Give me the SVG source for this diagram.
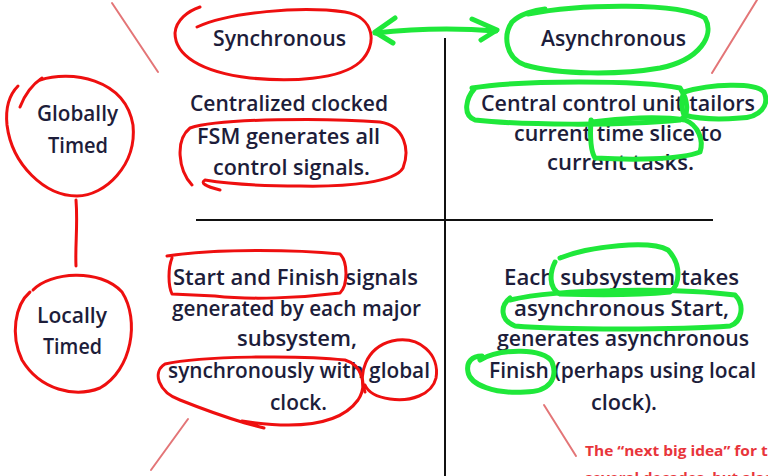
<svg xmlns="http://www.w3.org/2000/svg" width="768" height="476" viewBox="0 0 768 476">
  <defs>
    <style>
      .t { font-family: "Open Sans", "Liberation Sans", sans-serif; font-size: 22px; font-weight: 600; fill: #1d1d3a; }
      .axis { stroke: #111; stroke-width: 2; fill: none; }
      .red { stroke: #ee0f0f; stroke-width: 3; fill: none; stroke-linecap: round; stroke-linejoin: round; }
      .green { stroke: #1fe83a; stroke-width: 5; fill: none; stroke-linecap: round; stroke-linejoin: round; }
      .pink { stroke: #d9474a; stroke-opacity: 0.75; stroke-width: 2; fill: none; stroke-linecap: round; }
      .note { font-family: "Open Sans", "Liberation Sans", sans-serif; font-size: 15px; font-weight: 700; fill: #e8353b; }
    </style>
  </defs>
  <rect width="768" height="476" fill="#ffffff"/>

  <!-- quadrant axes -->
  <g id="axes">
    <line class="axis" x1="445" y1="38" x2="445" y2="476"/>
    <line class="axis" x1="196" y1="220" x2="713" y2="220"/>
  </g>

  <!-- column and row headers -->
  <g id="synchronous">
    <text class="t" x="213" y="46" textLength="133" lengthAdjust="spacingAndGlyphs">Synchronous</text>
  </g>
  <g id="asynchronous">
    <text class="t" x="541" y="46" textLength="145" lengthAdjust="spacingAndGlyphs">Asynchronous</text>
  </g>
  <g id="globally-timed">
    <text class="t" x="37" y="121" textLength="81" lengthAdjust="spacingAndGlyphs">Globally</text>
    <text class="t" x="48" y="153" textLength="60" lengthAdjust="spacingAndGlyphs">Timed</text>
  </g>
  <g id="locally-timed">
    <text class="t" x="37" y="323" textLength="70" lengthAdjust="spacingAndGlyphs">Locally</text>
    <text class="t" x="43" y="354" textLength="59" lengthAdjust="spacingAndGlyphs">Timed</text>
  </g>

  <!-- quadrant descriptions -->
  <g id="sync-global">
    <text class="t" x="190" y="111" textLength="198" lengthAdjust="spacingAndGlyphs">Centralized clocked</text>
    <text class="t" x="197" y="144" textLength="183" lengthAdjust="spacingAndGlyphs">FSM generates all</text>
    <text class="t" x="213" y="175" textLength="157" lengthAdjust="spacingAndGlyphs">control signals.</text>
  </g>
  <g id="async-global">
    <text class="t" x="481" y="111" textLength="274" lengthAdjust="spacingAndGlyphs">Central control unit tailors</text>
    <text class="t" x="514" y="141" textLength="208" lengthAdjust="spacingAndGlyphs">current time slice to</text>
    <text class="t" x="547" y="170" textLength="147" lengthAdjust="spacingAndGlyphs">current tasks.</text>
  </g>
  <g id="sync-local">
    <text class="t" x="173" y="285" textLength="245" lengthAdjust="spacingAndGlyphs">Start and Finish signals</text>
    <text class="t" x="172" y="316" textLength="249" lengthAdjust="spacingAndGlyphs">generated by each major</text>
    <text class="t" x="237" y="346" textLength="120" lengthAdjust="spacingAndGlyphs">subsystem,</text>
    <text class="t" x="168" y="378" textLength="262" lengthAdjust="spacingAndGlyphs">synchronously with global</text>
    <text class="t" x="270" y="410" textLength="57" lengthAdjust="spacingAndGlyphs">clock.</text>
  </g>
  <g id="async-local">
    <text class="t" x="504" y="285" textLength="235" lengthAdjust="spacingAndGlyphs">Each subsystem takes</text>
    <text class="t" x="514" y="316" textLength="215" lengthAdjust="spacingAndGlyphs">asynchronous Start,</text>
    <text class="t" x="497" y="346" textLength="252" lengthAdjust="spacingAndGlyphs">generates asynchronous</text>
    <text class="t" x="489" y="378" textLength="267" lengthAdjust="spacingAndGlyphs">Finish (perhaps using local</text>
    <text class="t" x="591" y="410" textLength="66" lengthAdjust="spacingAndGlyphs">clock).</text>
  </g>

  <!-- side note, running off the slide edge -->
  <g id="note">
    <text class="note" x="585" y="456" textLength="202" lengthAdjust="spacingAndGlyphs">The “next big idea” for the</text>
    <text class="note" x="585" y="483">several decades, but alas</text>
  </g>

  <!-- thin pointer strokes -->
  <g id="pointers">
    <line class="pink" x1="112" y1="3" x2="158" y2="72"/>
    <line class="pink" x1="757" y1="0" x2="712" y2="73"/>
    <line class="pink" x1="188" y1="419" x2="151" y2="470"/>
    <line class="pink" x1="544" y1="405" x2="576" y2="456"/>
  </g>

  <!-- red ink markup -->
  <g id="red-ink">
    <path class="red" d="M197,27 C230,12 300,6 345,12 C375,17 378,45 360,62 C340,80 290,82 250,78 C200,72 175,55 175,33 C176,20 188,11 200,7"/>
    <path class="red" d="M20,107 C25,94 33,84 42,78"/>
    <path class="red" d="M40,80 C70,70 125,78 133,125 C137,165 105,196 77,196 C45,196 12,165 7,125 C5,105 10,94 18,86"/>
    <path class="red" d="M76,200 C78,225 75,245 76,266"/>
    <path class="red" d="M33,290 C50,272 100,268 122,292 C140,320 132,370 100,388 C75,398 40,390 22,360 C10,335 15,305 30,292"/>
    <path class="red" d="M192,185 C178,170 175,140 190,128 C220,118 330,118 380,122 C405,126 410,150 403,168 C395,182 350,187 300,186 C260,186 230,184 205,180 C200,183 205,186 220,190"/>
    <path class="red" d="M167,256 C220,248 300,250 340,254 C348,262 348,285 340,293 C300,298 250,300 215,296 L172,294 C168,285 168,268 172,258"/>
    <path class="red" d="M242,421 C300,430 340,425 358,400 C368,385 362,365 345,360 C300,355 200,356 165,364 C152,372 158,392 180,400 C205,410 225,417 245,423 L264,428"/>
    <path class="red" d="M365,392 C358,375 365,348 392,341 C420,335 440,355 436,378 C432,395 410,402 390,399 C376,397 368,392 365,385"/>
  </g>

  <!-- green ink markup -->
  <g id="green-ink">
    <path class="green" d="M375,33 C420,28 460,28 496,31"/>
    <path class="green" d="M395,18 L375,32 L393,43"/>
    <path class="green" d="M472,19 L497,30 L481,40"/>
    <path class="green" d="M528,14 C580,4 680,2 705,18 C715,35 700,60 660,68 C620,75 560,75 525,65 C505,58 503,35 512,22 C520,14 535,10 545,9"/>
    <path class="green" d="M472,88 C520,80 640,80 680,88 C688,100 690,115 680,120 C620,126 520,125 475,120 C462,115 466,98 475,88"/>
    <path class="green" d="M684,92 C710,84 755,82 764,92 C770,105 760,118 740,118 C715,120 695,118 684,115 C681,108 681,98 684,92"/>
    <path class="green" d="M591,120 C590,135 590,150 595,158 C630,160 680,160 700,152 C704,140 698,125 685,120 C660,116 620,118 592,122"/>
    <path class="green" d="M560,258 C590,246 650,240 668,250 C682,265 680,285 670,292 C640,295 590,295 560,294 C548,288 550,272 555,262"/>
    <path class="green" d="M510,300 C560,288 680,288 735,295 C745,305 742,322 730,326 C680,330 560,330 515,326 C500,320 500,306 510,298"/>
    <path class="green" d="M480,360 C500,348 545,348 552,362 C558,378 550,392 525,392 C495,394 470,385 468,372 C466,362 472,356 482,356"/>
  </g>
</svg>
